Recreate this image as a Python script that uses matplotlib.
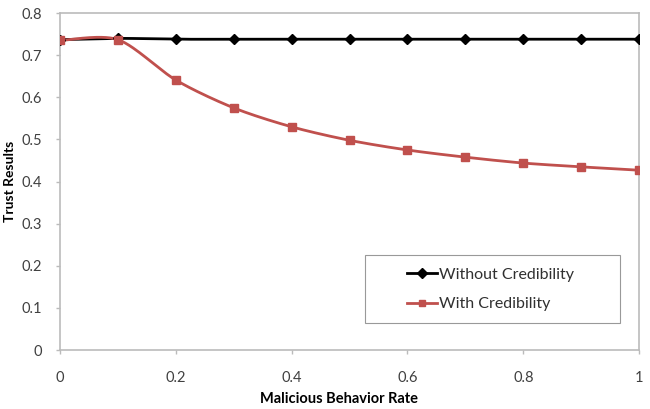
import numpy as np
import matplotlib
matplotlib.use("Agg")
import matplotlib.pyplot as plt
from matplotlib.lines import Line2D
from matplotlib.patches import Rectangle

rates = [0, 0.1, 0.2, 0.3, 0.4, 0.5, 0.6, 0.7, 0.8, 0.9, 1.0]
without_cred = [0.737, 0.740, 0.738, 0.738, 0.738, 0.738, 0.738, 0.738, 0.738, 0.738, 0.738]
with_cred = [0.735, 0.737, 0.641, 0.575, 0.530, 0.498, 0.475, 0.458, 0.444, 0.435, 0.427]


def smooth(xs, ys, n=30):
    # catmull-rom style curve, like excel's smoothed line
    xs = np.asarray(xs, float)
    ys = np.asarray(ys, float)
    px = np.concatenate([[xs[0]], xs, [xs[-1]]])
    py = np.concatenate([[ys[0]], ys, [ys[-1]]])
    outx, outy = [], []
    t = np.linspace(0, 1, n)
    for i in range(1, len(px) - 2):
        p0, p1, p2, p3 = [np.array([px[j], py[j]]) for j in (i - 1, i, i + 1, i + 2)]
        c1 = p1 + (p2 - p0) / 7
        c2 = p2 - (p3 - p1) / 7
        for tt in t:
            b = ((1 - tt) ** 3) * p1 + 3 * ((1 - tt) ** 2) * tt * c1 + 3 * (1 - tt) * tt ** 2 * c2 + tt ** 3 * p2
            outx.append(b[0])
            outy.append(b[1])
    return outx, outy


plt.rcParams['font.family'] = ['Lato', 'DejaVu Sans']

fig = plt.figure(figsize=(6.5, 4.09), dpi=100)
ax = fig.add_axes([0.0923, 0.144, 0.891, 0.824])

red = '#C0504D'
sx, sy = smooth(rates, without_cred)
ax.plot(sx, sy, color='black', lw=2, zorder=3)
ax.plot(rates, without_cred, 'D', color='black', ms=5.5, zorder=4)
sx, sy = smooth(rates, with_cred)
ax.plot(sx, sy, color=red, lw=2, zorder=3)
ax.plot(rates, with_cred, 's', color=red, ms=6, zorder=4)

ax.set_xlim(0, 1)
ax.set_ylim(0, 0.8)
ax.set_xticks([0, 0.2, 0.4, 0.6, 0.8, 1])
ax.set_xticklabels(['0', '0.2', '0.4', '0.6', '0.8', '1'])
ax.set_yticks(np.arange(0, 0.81, 0.1))
ax.set_yticklabels(['0', '0.1', '0.2', '0.3', '0.4', '0.5', '0.6', '0.7', '0.8'])
ax.tick_params(labelsize=10.5, colors='#404040', direction='out', length=3, width=1, color='#bbbbbb')
ax.tick_params(axis='x', pad=12)
ax.tick_params(axis='y', pad=10)
for s in ax.spines.values():
    s.set_color('#bbbbbb')
    s.set_linewidth(1.2)

ax.set_xlabel('Malicious Behavior Rate', fontsize=10.5, fontweight='bold')
ax.xaxis.label.set_va('center')
ax.xaxis.set_label_coords(0.482, -0.145)
ax.set_ylabel('Trust Results', fontsize=10, fontweight='bold', labelpad=4)

# legend box
ax.add_patch(Rectangle((0.527, 0.080), 0.440, 0.202, transform=ax.transAxes,
                       fill=True, facecolor='white', edgecolor='#999999', lw=0.8, zorder=5))
handles = [
    Line2D([0], [0], color='black', lw=2, marker='D', ms=5),
    Line2D([0], [0], color=red, lw=2, marker='s', ms=5),
]
leg = ax.legend(handles, ['Without Credibility', 'With Credibility'],
                loc='center', bbox_to_anchor=(0.7435, 0.180), frameon=False,
                fontsize=11.5, handlelength=1.9, handletextpad=0.15,
                labelspacing=0.95, borderpad=0, borderaxespad=0)
leg.set_zorder(6)
leg._legend_box.align = 'left'
for t in leg.get_texts():
    t.set_color('#303030')

fig.savefig('out.png', dpi=100)
